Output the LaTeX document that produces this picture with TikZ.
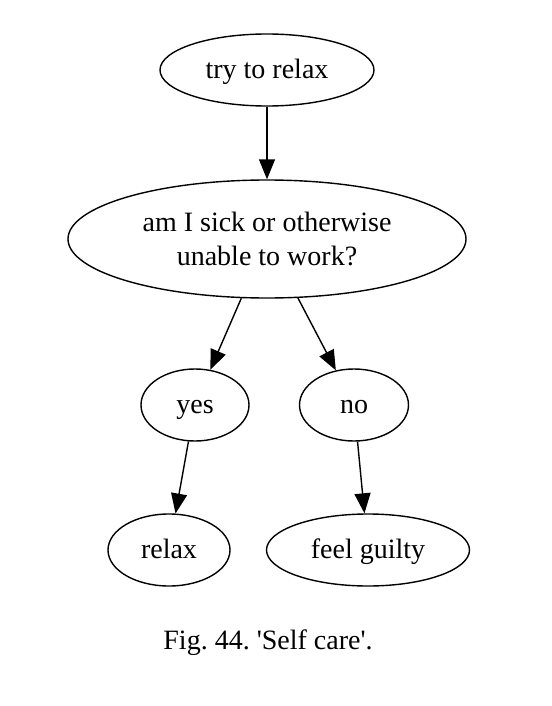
\documentclass[tikz,border=0pt]{standalone}
\usepackage{fontspec}
\setmainfont{Liberation Serif}
\usetikzlibrary{arrows.meta, positioning, shapes.geometric}

\begin{document}
\frenchspacing
\begin{tikzpicture}[
        x=0.5pt, y=-0.5pt,
        oval/.style={ellipse, draw, line width=0.7pt, inner sep=0pt, align=center, minimum height=36pt, font=\fontsize{14}{17}\selectfont},
        word/.style={oval, text height=10.6pt, text depth=2.4pt},
        line/.style={-{Triangle[length=10pt,width=8pt]}, line width=0.7pt}
    ]
    \useasboundingbox (0,0) rectangle (551,706);
    \node [word, minimum width=107pt] (try) at (267,70) {try to relax};
    \node [oval, minimum width=199pt, minimum height=59pt] (ask) at (267,239) {am I sick or otherwise\\unable to work?};
    \node [word, minimum width=54pt] (yes) at (195,405) {yes};
    \node [word, minimum width=54.5pt] (no) at (354,405) {no};
    \node [word, minimum width=61pt] (relax) at (169,550) {relax};
    \node [word, minimum width=101.5pt] (guilty) at (368,550) {feel guilty};
    \node [font=\fontsize{14}{17}\selectfont] (caption) at (268,643) {Fig. 44. \textquotesingle Self care\textquotesingle.};
    \draw[line] (try) -- (ask);
    \draw[line] (ask) -- (yes);
    \draw[line] (ask) -- (no);
    \draw[line] (yes) -- (relax);
    \draw[line] (no) -- (guilty);
  \end{tikzpicture}
\end{document}
